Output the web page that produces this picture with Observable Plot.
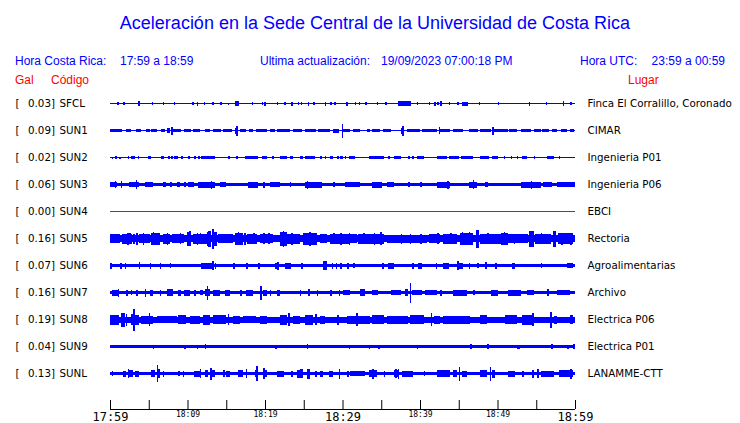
<!DOCTYPE html>
<html><head><meta charset="utf-8">
<script src="https://cdn.jsdelivr.net/npm/d3@7"></script>
<script src="https://cdn.jsdelivr.net/npm/@observablehq/plot@0.6"></script>
<style>
body{margin:0;background:#fff;}
#hdr{position:relative;width:740px;height:90px;font-family:"Liberation Sans",Arial,sans-serif;}
#hdr div{position:absolute;white-space:pre;line-height:1;}
.t{font-size:18px;color:#0000ff;top:14px;left:0;width:750px;text-align:center;}
.h{font-size:12px;color:#0000ff;top:55px;}
.r{font-size:12px;color:#ff0000;top:74px;}
#chart svg{display:block;}
</style></head><body>
<div id="hdr">
<div class="t">Aceleración en la Sede Central de la Universidad de Costa Rica</div>
<div class="h" style="left:15px">Hora Costa Rica:</div>
<div class="h" style="left:120px">17:59 a 18:59</div>
<div class="h" style="left:260px">Ultima actualización:</div>
<div class="h" style="left:381px">19/09/2023 07:00:18 PM</div>
<div class="h" style="left:580px">Hora UTC:</div>
<div class="h" style="right:15px">23:59 a 00:59</div>
<div class="r" style="left:15px">Gal</div>
<div class="r" style="left:51px">Código</div>
<div class="r" style="left:628px">Lugar</div>
</div>
<div id="chart"></div>
<script>
// ---- data ----
const stations = ["SFCL","SUN1","SUN2","SUN3","SUN4","SUN5","SUN6","SUN7","SUN8","SUN9","SUNL"];
const peakGal = [0.03,0.09,0.02,0.06,0.00,0.16,0.07,0.16,0.19,0.04,0.13];
const places = ["Finca El Corralillo, Coronado","CIMAR","Ingenieria P01","Ingenieria P06","EBCI","Rectoria","Agroalimentarias","Archivo","Electrica P06","Electrica P01","LANAMME-CTT"];
// background (noise) half-amplitude of each trace, display units
const baseAmp = [0.7,0.9,0.6,1.5,0.5,3.5,1.6,1.5,3.0,1.4,1.7];
// minutes after 17:59
const tickMinutes = [0,5,10,15,20,25,30,35,40,45,50,55,60];
const labelMinutes = [0,10,20,30,40,50,60];
const tickLabels = ["17:59","18:09","18:19","18:29","18:39","18:49","18:59"];

// bursts: [start minute, end minute, half-amplitude]
const burstsSFCL = [[0.9,0.9,1.5],[1.7,1.7,1.2],[3.6,3.9,2.5],[5.4,5.4,1.5],[6.8,6.8,1.5],[8.2,8.2,1.2],[10.6,10.6,1.5],[11.2,11.2,2],[12.1,12.1,1.2],[13.2,13.2,1.5],[14.2,14.2,1.2],[15.2,15.2,1],[16.1,16.6,2.5],[18.3,18.3,1.2],[19.6,19.6,1.5],[19.9,19.9,2],[21.5,21.5,1.5],[22.5,22.5,1.2],[23.4,23.6,2],[24.2,24.2,1.2],[24.6,24.6,1.2],[25.5,25.5,2],[26.2,26.2,1.2],[27.7,27.7,2],[28.4,28.4,1.5],[28.9,28.9,1.2],[30.5,30.6,2],[31.6,31.6,1.5],[32.1,32.1,1.2],[32.9,32.9,1.2],[34.4,34.6,1.5],[35.5,35.5,1.5],[37.2,38.9,2.5],[39.6,39.6,1.2],[41.1,41.1,1.5],[41.8,41.8,2],[42.2,42.2,1.5],[42.6,42.8,2.5],[43.7,43.7,1.5],[44.8,44.8,1.5],[45.4,46.2,2],[47.6,47.6,1.2],[50.0,50.0,1.2],[54.0,54.0,2],[56.2,56.2,1.2],[58.4,58.4,2.5],[59.4,59.4,1.5]];
const burstsSUN1 = [[0,1.5,1.3],[2.1,2.7,1.5],[3.4,4.0,1.8],[4.7,5.1,1.5],[5.3,6.0,1.5],[6.6,7.1,1.8],[7.3,7.8,2.5],[7.9,7.9,4],[8.0,9.2,1.6],[9.5,10.4,1.6],[10.7,11.6,1.6],[12.2,12.9,1.5],[13.3,14.3,1.6],[14.6,15.7,1.6],[16.1,16.1,3],[16.3,16.3,5],[16.8,17.6,1.6],[17.9,18.5,1.6],[18.9,20.2,1.6],[20.6,21.3,1.5],[21.5,23.2,1.6],[23.6,24.8,1.8],[25.1,26.6,1.8],[26.9,28.4,1.8],[28.8,29.5,2],[29.9,29.9,7],[30.1,31.0,1.6],[31.3,32.3,1.6],[33.1,33.6,1.6],[33.8,34.9,1.6],[35.2,36.2,1.6],[37.5,37.9,3],[37.7,37.7,5],[38.3,40.0,1.6],[40.3,42.2,1.6],[42.4,42.4,3.5],[42.6,43.9,1.6],[44.3,45.6,1.6],[46.3,47.5,1.8],[47.8,49.1,1.8],[49.3,49.3,4],[49.5,51.3,1.6],[51.5,52.5,1.6],[53.0,54.3,1.6],[54.7,55.6,1.6],[55.8,56.7,1.6],[57.0,57.7,1.6],[58.2,59.0,1.3],[59.3,59.9,1.3]];
const burstsSUN2 = [[0.2,0.2,1],[0.7,0.7,1.5],[1.2,1.2,1],[2.3,2.3,1.2],[2.7,3.2,1.8],[3.6,3.8,1.8],[4.9,5.3,1.8],[6.6,6.6,1.2],[6.8,6.8,1.5],[7.5,7.5,1.2],[7.9,7.9,1.2],[8.3,8.8,1.8],[9.2,9.4,1.8],[10.1,10.1,1.2],[10.9,10.9,1.2],[11.4,11.4,1.2],[11.8,13.5,1.8],[15.2,15.5,1.5],[16.3,16.5,1.8],[17.4,19.1,1.8],[19.6,20.2,1.8],[20.9,20.9,1.2],[21.9,22.8,1.5],[23.2,23.6,1.8],[24.5,24.9,1.5],[25.2,26.5,1.8],[27.1,27.1,1.5],[27.7,27.7,1.2],[28.4,28.8,1.5],[29.3,29.3,1.2],[29.7,30.1,1.2],[30.3,30.3,1.5],[30.8,31.6,1.5],[33.4,35.3,1.8],[35.9,35.9,1.2],[36.6,37.5,1.8],[38.5,38.5,1.5],[39.0,39.0,1.2],[39.6,40.5,1.8],[42.2,43.5,1.8],[43.8,45.0,1.8],[45.3,46.9,1.8],[47.8,48.9,1.8],[49.3,50.0,1.5],[50.8,50.8,1.2],[51.7,51.7,1.2],[52.5,52.5,1.2],[53.2,53.8,1.5],[54.7,54.7,1.2],[56.4,57.3,1.8],[57.9,57.9,1.2]];
const burstsSUN3 = [[0,0.9,2.5],[0.6,0.6,3.5],[1.4,1.4,3.5],[2.5,3.8,2.5],[3.3,3.3,4.5],[4.5,5.5,2.5],[6.8,7.2,2.5],[7.8,8.0,2.5],[8.6,9.0,2.5],[9.6,9.8,2.5],[10.0,10.8,2.5],[11.4,13.5,3],[13.0,13.0,4],[14.2,15.0,2.5],[17.8,19.1,3],[19.8,19.8,3],[20.6,21.9,2.5],[23.2,23.2,2.5],[25.2,27.3,3],[25.4,25.4,4],[28.8,28.8,2.5],[30.3,30.9,2.5],[30.6,32.3,2.5],[33.8,35.1,3],[35.7,36.6,2.5],[38.5,38.5,2.5],[40.0,40.0,2.5],[42.2,43.9,3],[43.5,43.5,4],[46.3,47.4,3],[46.8,46.8,4.5],[48.4,48.8,2.5],[53.0,55.6,3],[54.3,54.3,4],[55.9,57.0,2.5],[57.7,60,2.2]];
const burstsSUN4 = [];
const burstsSUN5 = [[0,1.3,4.5],[1.6,2.9,5],[3.4,3.4,6],[3.8,5.1,4.5],[5.3,6.4,6],[6.8,7.7,5],[8.0,9.6,4.5],[9.9,10.5,7],[10.7,12.5,5],[12.6,13.0,8],[13.2,13.2,10],[13.3,13.6,7],[13.9,15.9,4.5],[16.1,17.1,6],[17.7,19.0,5],[19.3,21.0,4.5],[21.9,22.6,7],[22.8,24.5,5],[24.9,26.7,6],[27.1,28.0,4.5],[28.4,31.0,5],[31.0,31.9,4.5],[32.0,35.3,5],[34.9,34.9,6.5],[35.8,40.9,4],[41.1,42.6,4.5],[43.0,44.8,5],[45.2,46.9,6],[47.2,47.5,9],[47.8,50.4,5],[50.5,51.3,6],[51.4,53.9,4.5],[54.1,54.7,8],[54.9,56.9,5],[57.1,57.5,8],[57.8,59.8,5.5],
  [2.2,2.2,6],[2.5,2.5,5.5],[3.0,3.0,5],[4.2,4.2,6],[5.5,5.5,6.5],[6.0,6.0,5.5],[7.3,7.3,6],[9.0,9.0,5.5],[10.2,10.2,7.5],[11.2,11.2,6],[11.6,11.6,5.5],[12.5,12.5,7],[13.6,13.6,7],[16.5,16.5,6.5],[17.3,17.3,6],[18.5,18.5,5.5],[19.8,19.8,5.5],[20.4,20.4,5.5],[22.3,22.3,8],[22.6,22.6,7],[23.4,23.4,6],[25.4,25.4,6],[25.7,25.7,7],[26.2,26.2,6],[28.8,28.8,5.5],[29.7,29.7,6],[30.8,30.8,6],[32.7,32.7,5.5],[34.0,34.0,6],[37.5,37.5,5],[38.7,38.7,5],[40.0,40.0,5],[42.2,42.2,5.5],[43.9,43.9,5.5],[45.4,45.4,6.5],[46.3,46.3,6.5],[47.4,47.4,9],[48.7,48.7,5.5],[50.8,50.8,6.5],[52.1,52.1,5],[54.3,54.3,8],[55.6,55.6,5.5],[57.3,57.3,8],[58.2,58.2,6],[59.4,59.4,6]];
const burstsSUN6 = [[0,0,3],[1.3,1.3,3],[1.9,1.9,3],[3.7,3.7,3.5],[5.1,5.1,3],[6.4,6.4,3],[7.7,7.7,2.5],[11.8,13.1,3],[13.2,13.2,4.5],[13.5,13.5,3],[15.9,15.9,3],[17.6,17.6,3],[19.1,19.1,3],[21.3,21.7,3],[21.6,21.6,4],[22.6,23.4,3],[24.7,24.7,3],[27.5,28.0,4.5],[28.6,28.6,3],[29.1,29.1,3],[29.7,29.7,3],[30.6,30.6,3],[31.4,31.4,2.5],[35.1,35.1,3],[35.9,36.6,3],[39.0,39.0,3],[39.8,40.3,3],[42.0,42.0,3],[43.0,43.7,3],[44.8,44.8,4.5],[45.0,45.5,3],[46.3,46.5,3],[47.4,47.4,2.5],[48.4,48.7,3.5],[49.7,49.7,3],[51.9,52.3,3],[55.6,55.6,2.5],[59.0,59.7,2.5]];
const burstsSUN7 = [[0.2,1.0,3],[1.0,1.0,4],[2.1,2.1,3],[2.7,2.7,2.5],[3.4,3.4,3],[4.5,4.5,4],[5.1,5.5,3],[6.4,6.4,3],[7.3,8.1,3.5],[8.8,9.2,3],[9.6,10.3,3],[10.9,10.9,3],[11.6,12.0,2.5],[12.2,12.9,3.5],[12.5,12.5,7],[13.3,14.2,3],[14.8,15.5,3],[16.8,16.8,3],[17.6,18.5,3],[19.4,19.4,7],[19.8,20.2,3],[20.6,20.6,3],[21.5,21.9,3],[24.5,24.5,3],[25.6,25.6,3.5],[26.7,26.7,3],[28.4,28.4,3],[29.5,29.5,3],[30.1,31.0,2.5],[32.3,32.9,3.5],[33.8,34.6,2.5],[36.2,37.5,2.5],[38.1,38.5,3.5],[38.7,38.7,10],[39.0,40.2,2.5],[40.6,42.2,2.5],[42.6,42.6,3],[44.3,46.1,3],[46.9,46.9,2.5],[49.1,50.0,3],[51.3,53.0,3],[53.8,54.7,2.5],[56.4,56.4,3.5],[57.7,59.4,2.5]];
const burstsSUN8 = [[0,1.2,5],[1.4,1.9,7],[2.0,2.0,6],[2.7,3.0,5.5],[3.0,3.0,11],[3.2,3.8,5],[4.0,5.5,4],[5.0,5.0,6.5],[6.0,8.6,3.8],[8.8,9.8,4.5],[10.3,11.6,4],[12.0,12.9,5],[13.3,15.0,4.5],[15.2,15.2,5.5],[15.9,16.8,4],[17.2,18.9,3.5],[19.4,20.2,4],[21.9,22.8,5],[23.0,23.0,6.5],[23.6,24.5,4],[25.2,26.2,5],[26.5,26.5,5.5],[27.1,27.7,4],[29.3,29.3,5],[30.6,33.6,4],[31.8,31.8,6.5],[33.8,35.3,4.5],[35.7,38.4,4],[38.7,40.5,4.5],[41.4,41.4,6.5],[41.8,42.6,4],[43.0,46.5,4],[47.8,48.7,4.5],[51.0,52.5,4.5],[53.2,54.7,5],[54.5,54.5,6.5],[56.8,56.8,8],[57.3,57.7,4],[59.4,59.8,4.5]];
const burstsSUN9 = [[5.5,5.5,2],[9.6,9.6,2],[11.2,11.2,2],[12.2,12.2,2.5],[21.3,21.3,2],[25.4,25.4,2.5],[30.8,30.8,2],[33.4,33.4,2],[34.6,34.6,2],[39.6,39.6,2],[46.5,46.5,2.5],[48.7,48.7,2.5],[52.5,52.9,2],[56.9,56.9,2.5],[59.0,59.0,2],[59.8,60,2.5]];
const burstsSUNL = [[0.2,0.2,2.5],[1.7,2.1,3],[2.3,2.3,4.5],[2.5,3.0,3.5],[3.2,3.8,3],[5.3,5.8,3.5],[6.0,6.0,8.5],[6.2,6.4,4.5],[6.8,6.8,3],[8.8,8.8,2.5],[9.4,9.4,3],[10.9,11.6,3],[11.6,11.6,4.5],[12.2,12.7,3.5],[12.9,12.9,6],[13.0,13.5,3.5],[14.6,14.6,3.5],[15.0,15.5,3],[16.5,17.2,3.5],[17.5,17.5,4.5],[18.7,18.9,3.5],[18.9,18.9,7.5],[19.8,19.8,5.5],[20.0,20.2,3.5],[21.5,22.4,3],[23.4,23.4,3],[24.1,24.5,4],[24.5,24.9,4.5],[25.4,25.8,5],[26.5,26.5,3],[27.1,27.5,3],[28.2,28.8,3],[29.5,29.5,5],[30.6,30.6,3],[31.0,32.9,2.5],[33.4,34.5,3.5],[33.8,33.8,5],[35.3,35.3,3],[36.6,37.2,3.5],[36.8,36.8,4.5],[37.1,37.1,5],[37.7,39.1,3],[40.5,40.5,2.5],[42.2,43.9,3.5],[44.3,44.8,3.5],[45.0,45.0,7],[45.4,46.1,3],[47.8,48.7,3.5],[49.0,49.0,7],[49.3,49.7,4],[51.3,52.2,3],[53.2,53.2,3],[54.5,54.5,4],[55.1,55.1,4.5],[55.6,57.3,3],[57.9,59.8,3.5],[59.4,59.4,5]];
const bursts = [burstsSFCL,burstsSUN1,burstsSUN2,burstsSUN3,burstsSUN4,burstsSUN5,burstsSUN6,burstsSUN7,burstsSUN8,burstsSUN9,burstsSUNL];

// ---- layout / style ----
const W = 740, H = 333, MT = 0, MB = 14, ML = 110, MR = 165;
const rowGap = 27;
const yTop = rowGap / 2;
const yBottom = yTop - (H - MT - MB);
const tStart = tickMinutes[0], tEnd = tickMinutes[tickMinutes.length - 1];
const spikeWidth = 0.2;
const traceColor = "#0000ff", zeroColor = "#ff0000";
const lblFont = "DejaVu Sans", lblSize = 10.3;
const axFont = "DejaVu Sans Mono";

const rows = stations.map((code, i) => ({code, i, y: -i * rowGap, peak: peakGal[i], place: places[i], base: baseAmp[i]}));
const segs = rows.flatMap(r => bursts[r.i].map(([t1, t2, a]) => ({y: r.y, t1, t2: Math.min(tEnd, Math.max(t2, t1 + spikeWidth)), a})));
const labelRows = labelMinutes.map((m, i) => ({m, label: tickLabels[i], major: i % 3 === 0}));

const chart = Plot.plot({
  width: W, height: H,
  marginTop: MT, marginBottom: MB, marginLeft: ML, marginRight: MR,
  x: {domain: [tStart, tEnd], axis: null},
  y: {domain: [yBottom, yTop], axis: null},
  marks: [
    Plot.rect(rows.filter(d => d.peak > 0), {x1: () => tStart, x2: () => tEnd, y1: d => d.y - d.base, y2: d => d.y + d.base, fill: traceColor, shapeRendering: "crispEdges"}),
    Plot.rect(rows.filter(d => d.peak === 0), {x1: () => tStart, x2: () => tEnd, y1: d => d.y - d.base, y2: d => d.y + d.base, fill: zeroColor, shapeRendering: "crispEdges"}),
    Plot.rect(segs, {x1: "t1", x2: "t2", y1: d => d.y - d.a, y2: d => d.y + d.a, fill: traceColor, shapeRendering: "crispEdges"}),
    Plot.text(rows, {frameAnchor: "left", y: "y", text: () => "[", textAnchor: "start", dx: -95, fontFamily: lblFont, fontSize: lblSize, fill: "black"}),
    Plot.text(rows, {frameAnchor: "left", y: "y", text: d => d.peak.toFixed(2) + "]", textAnchor: "end", dx: -55.5, fontFamily: lblFont, fontSize: lblSize, fill: "black"}),
    Plot.text(rows, {frameAnchor: "left", y: "y", text: "code", textAnchor: "start", dx: -51, fontFamily: lblFont, fontSize: lblSize, fill: "black"}),
    Plot.text(rows, {frameAnchor: "right", y: "y", text: "place", textAnchor: "start", dx: 12, fontFamily: lblFont, fontSize: lblSize, fill: "black"}),
    Plot.ruleY([yBottom], {stroke: "black", strokeWidth: 1}),
    Plot.ruleX(tickMinutes, {x: d => d, y1: () => yBottom, y2: () => yBottom + 9, stroke: "black", strokeWidth: 1}),
    Plot.text(labelRows.filter(d => d.major), {x: "m", y: () => yBottom, text: "label", lineAnchor: "top", dy: 3, fontFamily: axFont, fontSize: 12, fill: "black"}),
    Plot.text(labelRows.filter(d => !d.major), {x: "m", y: () => yBottom, text: "label", lineAnchor: "top", dy: 2, fontFamily: axFont, fontSize: 8, fill: "black"})
  ]
});
document.getElementById("chart").appendChild(chart);
</script>
</body></html>
